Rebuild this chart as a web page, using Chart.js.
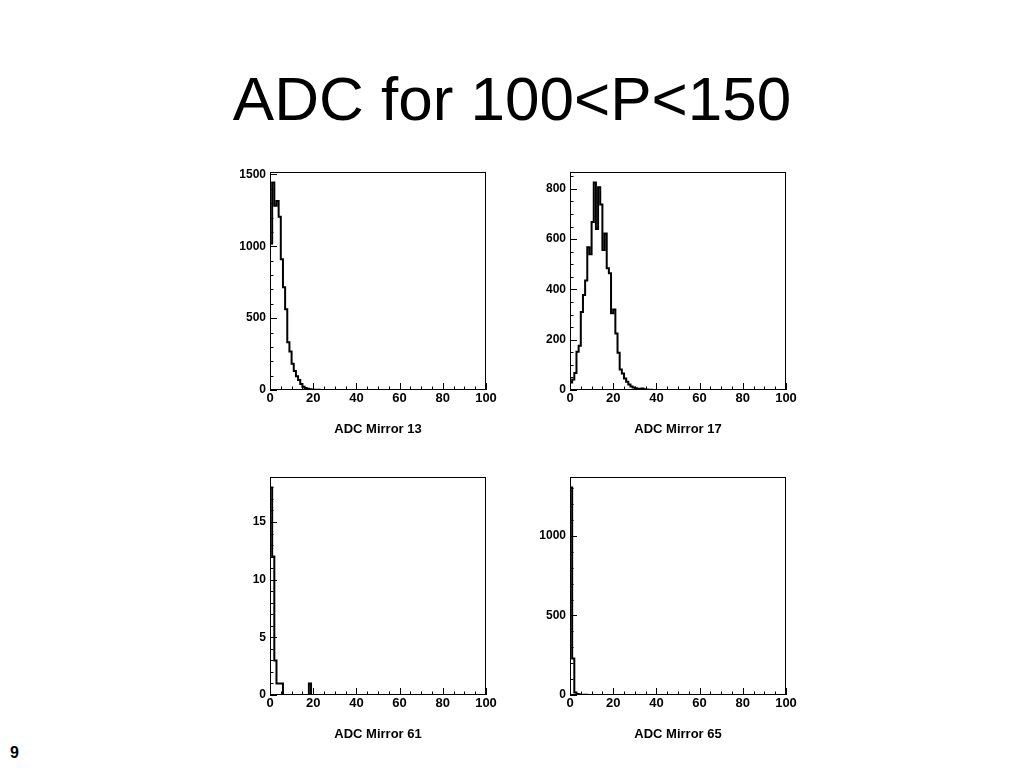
<!DOCTYPE html>
<html>
<head>
<meta charset="utf-8">
<title>ADC for 100&lt;P&lt;150</title>
<script src="https://cdn.jsdelivr.net/npm/chart.js@4.4.1/dist/chart.umd.min.js"></script>
<style>
  body { margin: 0; width: 1024px; height: 768px; background: #fff; position: relative; overflow: hidden; font-family: "Liberation Sans", Arial, sans-serif; }
  #title { position: absolute; left: 0; top: 68px; width: 1024px; text-align: center; font-size: 62px; line-height: 62px; }
  #page { position: absolute; left: 10px; top: 745px; font-size: 16px; line-height: 16px; font-weight: bold; }
  canvas { position: absolute; }
</style>
</head>
<body>
<div id="title">ADC for 100&lt;P&lt;150</div>
<canvas id="m13" width="300" height="290" style="left:210px; top:160px;"></canvas>
<canvas id="m17" width="300" height="290" style="left:510px; top:160px;"></canvas>
<canvas id="m61" width="300" height="290" style="left:210px; top:465px;"></canvas>
<canvas id="m65" width="300" height="290" style="left:510px; top:465px;"></canvas>
<div id="page">9</div>
<script>
// ADC histograms, 100 bins of width 1 from 0 to 100 (counts)
const binWidth = 1;
const xTicks = [0, 20, 40, 60, 80, 100];
const yTicks13 = [0, 500, 1000, 1500];
const yTicks17 = [0, 200, 400, 600, 800];
const yTicks61 = [0, 5, 10, 15];
const yTicks65 = [0, 500, 1000];

const mirror13 = [
  1020, 1445, 1283, 1315, 1205, 910, 715, 562, 333, 268, 183, 133, 96, 69, 41, 23, 14, 9, 5, 3,
  2, 1, 1, 0, 0, 0, 0, 0, 0, 0, 0, 0, 0, 0, 0, 0, 0, 0, 0, 0,
  0, 0, 0, 0, 0, 0, 0, 0, 0, 0, 0, 0, 0, 0, 0, 0, 0, 0, 0, 0,
  0, 0, 0, 0, 0, 0, 0, 0, 0, 0, 0, 0, 0, 0, 0, 0, 0, 0, 0, 0,
  0, 0, 0, 0, 0, 0, 0, 0, 0, 0, 0, 0, 0, 0, 0, 0, 0, 0, 0, 0
];
const mirror17 = [
  30, 42, 68, 152, 176, 310, 378, 436, 568, 540, 668, 826, 641, 807, 738, 557, 623, 484, 464, 305,
  320, 225, 148, 82, 66, 46, 33, 22, 14, 10, 7, 5, 3, 6, 3, 2, 1, 1, 0, 0,
  0, 0, 0, 0, 0, 0, 0, 0, 0, 0, 0, 0, 0, 0, 0, 0, 0, 0, 0, 0,
  0, 0, 0, 0, 0, 0, 0, 0, 0, 0, 0, 0, 0, 0, 0, 0, 0, 0, 0, 0,
  0, 0, 0, 0, 0, 0, 0, 0, 0, 0, 0, 0, 0, 0, 0, 0, 0, 0, 0, 0
];
const mirror61 = [
  18, 12, 3, 1, 1, 1, 0, 0, 0, 0, 0, 0, 0, 0, 0, 0, 0, 0, 1, 0,
  0, 0, 0, 0, 0, 0, 0, 0, 0, 0, 0, 0, 0, 0, 0, 0, 0, 0, 0, 0,
  0, 0, 0, 0, 0, 0, 0, 0, 0, 0, 0, 0, 0, 0, 0, 0, 0, 0, 0, 0,
  0, 0, 0, 0, 0, 0, 0, 0, 0, 0, 0, 0, 0, 0, 0, 0, 0, 0, 0, 0,
  0, 0, 0, 0, 0, 0, 0, 0, 0, 0, 0, 0, 0, 0, 0, 0, 0, 0, 0, 0
];
const mirror65 = [
  1305, 230, 15, 6, 3, 2, 1, 1, 0, 0, 0, 0, 0, 0, 0, 0, 0, 0, 0, 0,
  0, 0, 0, 0, 0, 0, 0, 0, 0, 0, 0, 0, 0, 0, 0, 0, 0, 0, 0, 0,
  0, 0, 0, 0, 0, 0, 0, 0, 0, 0, 0, 0, 0, 0, 0, 0, 0, 0, 0, 0,
  0, 0, 0, 0, 0, 0, 0, 0, 0, 0, 0, 0, 0, 0, 0, 0, 0, 0, 0, 0,
  0, 0, 0, 0, 0, 0, 0, 0, 0, 0, 0, 0, 0, 0, 0, 0, 0, 0, 0, 0
];

// ROOT style frame: box around the plot, ticks pointing inwards
const rootFrame = {
  id: 'rootFrame',
  afterDatasetsDraw(chart, args, opts) {
    const { ctx, chartArea: a, scales: { x, y } } = chart;
    ctx.save();
    ctx.strokeStyle = '#000';
    ctx.lineWidth = 1;
    ctx.strokeRect(a.left + 0.5, a.top + 0.5, a.right - a.left - 1, a.bottom - a.top - 1);
    ctx.beginPath();
    for (let v = 0; v <= y.max + 1e-9; v += opts.yMinor) {
      const py = Math.round(y.getPixelForValue(v)) + 0.5;
      const len = Math.abs(v / opts.yMajor - Math.round(v / opts.yMajor)) < 1e-6 ? 7 : 3.5;
      ctx.moveTo(a.left, py);
      ctx.lineTo(a.left + len, py);
    }
    for (let v = 0; v <= 100; v += 5) {
      const px = Math.round(x.getPixelForValue(v)) + 0.5;
      const len = v % 20 === 0 ? 7 : 3.5;
      ctx.moveTo(px, a.bottom);
      ctx.lineTo(px, a.bottom - len);
    }
    ctx.stroke();
    ctx.restore();
  }
};

function drawHist(id, label, counts, yTicks, yMinor) {
  const points = counts.map((c, i) => ({ x: i * binWidth, y: c }));
  points.push({ x: counts.length * binWidth, y: counts[counts.length - 1] });
  const yMax = Math.max(...counts) * 1.05;

  new Chart(document.getElementById(id), {
    type: 'line',
    data: {
      datasets: [{
        data: points,
        stepped: true,
        borderColor: '#000',
        borderWidth: 2,
        pointRadius: 0,
        fill: false
      }]
    },
    options: {
      responsive: false,
      animation: false,
      layout: { padding: { top: 12, right: 24, left: 0, bottom: 0 } },
      plugins: {
        legend: { display: false },
        tooltip: { enabled: false },
        rootFrame: { yMajor: yTicks[1], yMinor: yMinor }
      },
      scales: {
        x: {
          type: 'linear',
          min: 0,
          max: 100,
          afterFit: s => { s.height = 60; },
          afterBuildTicks: s => { s.ticks = xTicks.map(v => ({ value: v })); },
          grid: { display: false, drawTicks: false },
          border: { display: false },
          ticks: {
            padding: 1,
            maxRotation: 0,
            color: '#000',
            font: { family: 'Liberation Sans', weight: 'bold', size: 13 }
          },
          title: {
            display: true,
            text: label,
            color: '#000',
            padding: { top: 0, bottom: 13 },
            font: { family: 'Liberation Sans', weight: 'bold', size: 13 }
          }
        },
        y: {
          min: 0,
          max: yMax,
          afterFit: s => { s.width = 60; },
          afterBuildTicks: s => { s.ticks = yTicks.map(v => ({ value: v })); },
          grid: { display: false, drawTicks: false },
          border: { display: false },
          ticks: {
            padding: 4,
            color: '#000',
            font: { family: 'Liberation Sans', weight: 'bold', size: 12 },
            callback: v => String(v)
          }
        }
      }
    },
    plugins: [rootFrame]
  });
}

drawHist('m13', 'ADC Mirror 13', mirror13, yTicks13, 100);
drawHist('m17', 'ADC Mirror 17', mirror17, yTicks17, 50);
drawHist('m61', 'ADC Mirror 61', mirror61, yTicks61, 1);
drawHist('m65', 'ADC Mirror 65', mirror65, yTicks65, 100);
</script>
</body>
</html>
